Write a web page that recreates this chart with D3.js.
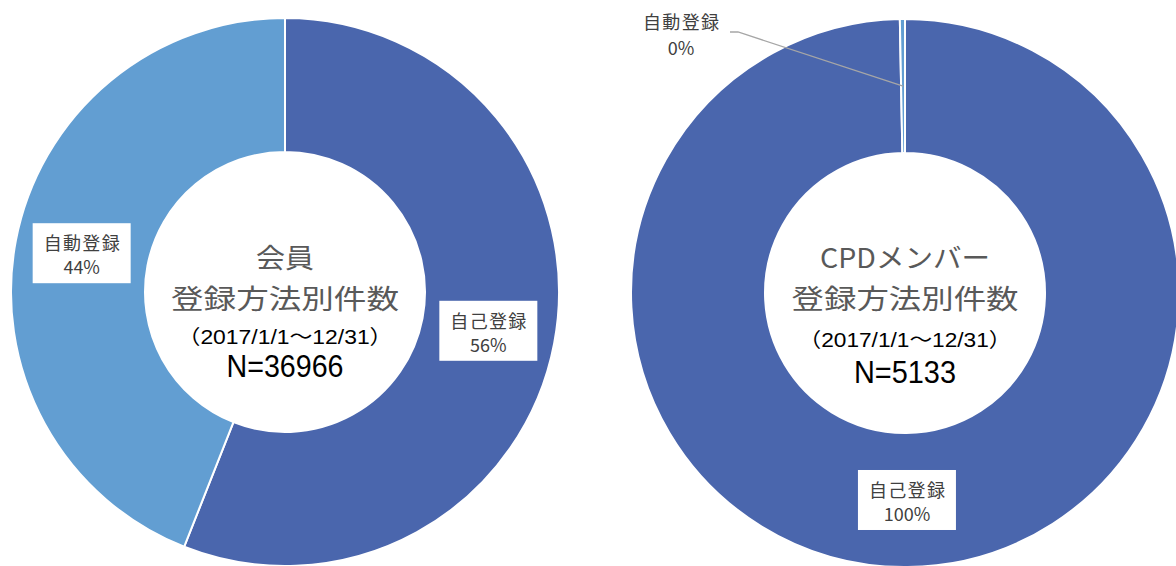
<!DOCTYPE html>
<html>
<head>
<meta charset="utf-8">
<script src="https://cdn.jsdelivr.net/npm/d3@7"></script>
<style>
body { margin: 0; background: #fff; }
svg { display: block; }
</style>
</head>
<body>
<div id="chart"></div>
<script>
// data
const categories = ["自己登録", "自動登録"];
const memberShares = [56, 44];      // 会員
const cpdShares = [99.7, 0.3];      // CPDメンバー
const chartTitles = ["会員", "CPDメンバー"];
const subTitle = "登録方法別件数";
const periodLabel = "（2017/1/1～12/31）";
const totals = [36966, 5133];

const width = 1176, height = 566;
const outerR = 274, innerR = 140;
const cjk = "'Noto Sans CJK JP', 'Noto Sans', sans-serif";
const latin = "'Liberation Sans Narrow', 'Liberation Sans', Arial, 'Noto Sans CJK JP', sans-serif";

const color = d3.scaleOrdinal()
    .domain(categories)
    .range(["#4a66ad", "#629ed2"]);

const svg = d3.select("#chart").append("svg")
    .attr("width", width)
    .attr("height", height);

const pie = d3.pie().sort(null).value(d => d.value);
const arc = d3.arc().innerRadius(innerR).outerRadius(outerR);
const labelArc = d3.arc().innerRadius(207).outerRadius(207);

const charts = [
    { title: chartTitles[0], shares: memberShares, total: totals[0], cx: 285, cy: 292,
      lineY: [-36, 5, 45, 74], widths: [58, 228, 215, 117] },
    { title: chartTitles[1], shares: cpdShares, total: totals[1], cx: 905, cy: 293,
      lineY: [-37, 4, 47, 79], widths: [170, 227, 213, 102] }
];

charts.forEach(c => {
    let g = svg.append("g")
        .attr("transform", "translate(" + c.cx + "," + c.cy + ")");

    let data = categories.map((name, i) => ({ name: name, value: c.shares[i] }));
    let arcs = pie(data);

    g.selectAll("path")
        .data(arcs)
        .enter().append("path")
        .attr("d", arc)
        .attr("fill", d => color(d.data.name))
        .attr("stroke", "#fff")
        .attr("stroke-width", 2);

    // centre text
    let lines = [
        { text: c.title, size: 27, fill: "#595959", font: cjk },
        { text: subTitle, size: 27, fill: "#595959", font: cjk },
        { text: periodLabel, size: 20, fill: "#000", font: latin },
        { text: "N=" + c.total, size: 31, fill: "#000", font: latin }
    ];
    lines.forEach((l, i) => {
        g.append("text")
            .attr("x", 0)
            .attr("y", c.lineY[i])
            .attr("text-anchor", "middle")
            .attr("dominant-baseline", "central")
            .attr("textLength", c.widths[i])
            .attr("lengthAdjust", "spacingAndGlyphs")
            .style("font-family", l.font)
            .style("font-size", l.size + "px")
            .style("fill", l.fill)
            .text(l.text);
    });

    // slice labels
    arcs.forEach(d => {
        let pct = Math.round(d.data.value) + "%";
        let [x, y] = labelArc.centroid(d);

        if (d.data.value >= 5) {
            let lg = g.append("g").attr("transform", "translate(" + x + "," + y + ")");
            lg.append("rect")
                .attr("x", -49).attr("y", -30)
                .attr("width", 98).attr("height", 60)
                .attr("fill", "#fff");
            lg.append("text")
                .attr("y", -11)
                .attr("text-anchor", "middle")
                .attr("dominant-baseline", "central")
                .attr("textLength", 76)
                .style("font-family", cjk)
                .style("font-size", "18px")
                .style("fill", "#404040")
                .text(d.data.name);
            lg.append("text")
                .attr("y", 13)
                .attr("text-anchor", "middle")
                .attr("dominant-baseline", "central")
                .style("font-family", cjk)
                .style("font-size", "18px")
                .style("fill", "#404040")
                .text(pct);
        } else {
            // tiny slice: label outside with a leader line
            let lx = -224, ly = -272;
            g.append("polyline")
                .attr("points", [[x, y], [lx + 57, ly + 11], [lx + 49, ly + 11]].join(" "))
                .attr("fill", "none")
                .attr("stroke", "#a6a6a6")
                .attr("stroke-width", 1.3);
            g.append("text")
                .attr("x", lx).attr("y", ly)
                .attr("text-anchor", "middle")
                .attr("dominant-baseline", "central")
                .attr("textLength", 76)
                .style("font-family", cjk)
                .style("font-size", "18px")
                .style("fill", "#404040")
                .text(d.data.name);
            g.append("text")
                .attr("x", lx).attr("y", ly + 26)
                .attr("text-anchor", "middle")
                .attr("dominant-baseline", "central")
                .style("font-family", cjk)
                .style("font-size", "18px")
                .style("fill", "#404040")
                .text(pct);
        }
    });
});
</script>
</body>
</html>
